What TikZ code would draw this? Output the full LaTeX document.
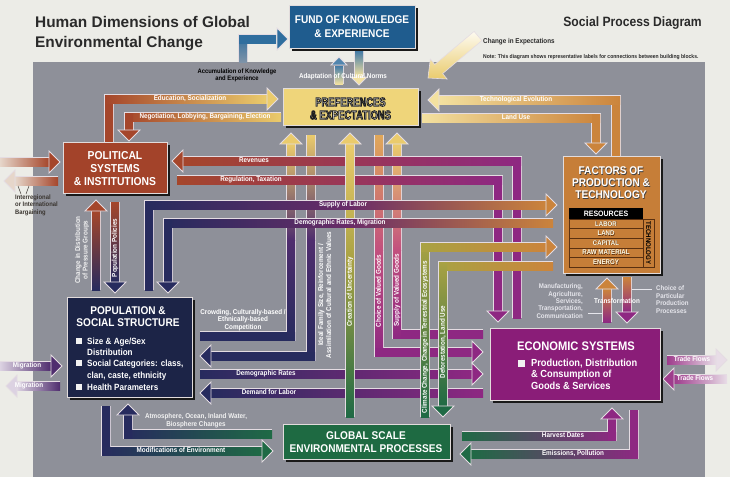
\documentclass[tikz,border=0pt]{standalone}
\usepackage{fontspec}
\setmainfont{Liberation Sans}
\newfontfamily\cf[FakeStretch=0.9]{Liberation Sans}
\newfontfamily\ncf[FakeStretch=0.75]{Liberation Sans}
\usetikzlibrary{shadows}
\definecolor{bgc}{HTML}{ECECE7}
\definecolor{panel}{HTML}{8E9099}
\definecolor{fundc}{HTML}{1F5C8E}
\definecolor{prefc}{HTML}{EFD57A}
\definecolor{polc}{HTML}{A3432A}
\definecolor{factc}{HTML}{C67E38}
\definecolor{popc}{HTML}{1C2447}
\definecolor{econc}{HTML}{8A1D78}
\definecolor{globc}{HTML}{1E6A42}
\definecolor{bandedge}{HTML}{E4DCE2}
\definecolor{boxedge}{HTML}{E2DCDC}
\definecolor{brn}{HTML}{A5462B}
\definecolor{yel}{HTML}{EACB6C}
\definecolor{pyel}{HTML}{F3E1A0}
\definecolor{org}{HTML}{CB843C}
\definecolor{pur}{HTML}{8E2882}
\definecolor{nav}{HTML}{272B5E}
\definecolor{plum}{HTML}{6A2C68}
\definecolor{vio}{HTML}{4F2D6E}
\definecolor{grn}{HTML}{1F6A45}
\definecolor{olv}{HTML}{A9A243}
\definecolor{yor}{HTML}{E0A85A}
\definecolor{pink}{HTML}{C2507E}
\definecolor{blu}{HTML}{2F6E9E}
\definecolor{bgblu}{HTML}{7E93A8}
\definecolor{lblu}{HTML}{9CC3DF}
\definecolor{pale}{HTML}{E6D6CA}
\definecolor{plav}{HTML}{DCD2E2}
\definecolor{ppale}{HTML}{E8DDE7}
\definecolor{pur2}{HTML}{9E3C8C}
\definecolor{titc}{HTML}{2A2A2A}
\definecolor{darktxt}{HTML}{3A3530}
\definecolor{lighttxt}{HTML}{E6E6EC}
\definecolor{rowline}{HTML}{5A3010}
\newcommand\fsz[2]{\fontsize{#1}{#2}\selectfont}
\newcommand\lf{\cf\bfseries\fsz{7}{7.6}}
\newcommand\outon{\special{pdf:literal direct 2 Tr 0.8 w 0.12 0.12 0.12 RG 1 1 1 rg}}
\newcommand\outoff{\special{pdf:literal direct 0 Tr}}
\def\ahs{11}
\newcommand\bandol[1]{\draw[line width=10pt,draw=bandedge,line join=miter] #1;}
\newcommand\hsh[5]{\shade[left color=#4,right color=#5] (#1,#3-4) rectangle (#2,#3+4);}
\newcommand\vsh[5]{\shade[top color=#4,bottom color=#5] (#1-4,#2) rectangle (#1+4,#3);}
\newcommand\arR[3]{\filldraw[fill=#3,draw=bandedge,line width=0.8pt,line join=miter] (#1,#2) -- (#1-\ahs,#2-\ahs) -- (#1-\ahs,#2+\ahs) -- cycle;}
\newcommand\arL[3]{\filldraw[fill=#3,draw=bandedge,line width=0.8pt,line join=miter] (#1,#2) -- (#1+\ahs,#2-\ahs) -- (#1+\ahs,#2+\ahs) -- cycle;}
\newcommand\arU[3]{\filldraw[fill=#3,draw=bandedge,line width=0.8pt,line join=miter] (#1,#2) -- (#1-\ahs,#2+\ahs) -- (#1+\ahs,#2+\ahs) -- cycle;}
\newcommand\arD[3]{\filldraw[fill=#3,draw=bandedge,line width=0.8pt,line join=miter] (#1,#2) -- (#1-\ahs,#2-\ahs) -- (#1+\ahs,#2-\ahs) -- cycle;}
\begin{document}
\begin{tikzpicture}[x=1pt,y=-1pt,
  lab/.style={text=white,font=\lf,inner sep=0,text height=5pt,text depth=1.4pt},
  labm/.style={text=white,font=\cf\bfseries\fsz{7}{7.4},inner sep=0,align=center},
  box/.style={draw=boxedge,line width=0.7pt,inner sep=0,
    general shadow={fill=black!90,shadow xshift=3pt,shadow yshift=-3pt}},
  boxtxt/.style={text=white,font=\cf\bfseries\fsz{11.2}{12.6},align=center,inner sep=0},
  preftxt/.style={boxtxt,font=\ncf\bfseries\fsz{12.5}{13}},
  poptxt/.style={anchor=base west,text=white,font=\cf\bfseries\fsz{9}{10},inner sep=0},
  ecotxt/.style={anchor=base west,text=white,font=\cf\bfseries\fsz{10.3}{11},inner sep=0},
]
\fill[bgc] (0,0) rectangle (730,477);
\useasboundingbox (0,0) rectangle (730,477);
\fill[panel] (33,62) rectangle (705,477);

% ---------- titles and notes
\node[anchor=base west,font=\bfseries\fsz{15.4}{20},text=titc,inner sep=0] (t1) at (35,27) {Human Dimensions of Global};
\node[anchor=base west,font=\bfseries\fsz{15.4}{20},text=titc,inner sep=0] (t2) at (35,47) {Environmental Change};
\node[anchor=base east,font=\cf\bfseries\fsz{13.5}{15},text=titc,inner sep=0] (t3) at (702,26.5) {Social Process Diagram};
\node[anchor=west,font=\cf\bfseries\fsz{7}{8},text=titc,inner sep=0] (t4) at (483,42) {Change in Expectations};
\node[anchor=west,font=\cf\bfseries\fsz{5.6}{7},text=titc,inner sep=0] (t5) at (483,57) {Note: This diagram shows representative labels for connections between building blocks.};

% ---------- change in expectations arrow
\shade[top color=white!85!pyel,bottom color=yel,draw=bandedge,line width=0.6pt,line join=miter]
 (481.9,40.6) -- (442.6,73.6) -- (447.1,79.0) -- (428,78) -- (430.3,59.0) -- (434.8,64.4) -- (474.1,31.4) -- cycle;

% ---------- accumulation arrow (blue)
\bandol{(243,62) -- (243,39) -- (276,39)}
\vsh{243}{35}{62}{blu}{bgblu}
\hsh{239}{276}{39}{blu}{blu}
\arR{288}{39}{blu}

% ---------- adaptation arrows
\def\ahs{8}
\bandol{(339,84) -- (339,66)}
\vsh{339}{66}{84}{fundc!70!lblu}{pyel}
\arU{339}{57}{fundc!60!lblu}
\bandol{(359,51) -- (359,76)}
\vsh{359}{51}{76}{fundc!70!lblu}{pyel}
\arD{359}{85}{pyel}
\def\ahs{11}

% ---------- Crowding (population -> preferences)
\bandol{(200,336) -- (291,336) -- (291,144)}
\hsh{200}{295}{336}{nav}{nav}
\vsh{291}{144}{240}{yel}{vio}
\vsh{291}{240}{340}{vio}{nav}
\arU{291}{133}{yel}
% Ideal family size (preferences -> population)
\bandol{(311,135) -- (311,356) -- (211,356)}
\vsh{311}{135}{240}{yel}{vio}
\vsh{311}{240}{360}{vio}{nav}
\hsh{211}{315}{356}{nav}{nav}
\arL{200}{356}{nav}
% Choice of valued goods
\bandol{(379,135) -- (379,352) -- (472,352)}
\vsh{379}{135}{250}{yor}{pink}
\vsh{379}{250}{356}{pink}{pur}
\hsh{375}{472}{352}{pur}{pur}
\arR{483}{352}{pur}
% Supply of valued goods
\bandol{(483,334) -- (397,334) -- (397,144)}
\hsh{393}{483}{334}{pur}{pur}
\vsh{397}{144}{250}{yel}{pink}
\vsh{397}{250}{338}{pink}{pur}
\arU{397}{133}{yel}
% Demographic rates
\bandol{(200,374) -- (472,374)}
\hsh{200}{472}{374}{nav}{pur}
\arR{483}{374}{pur}
% Demand for labor
\bandol{(483,393) -- (211,393)}
\hsh{211}{483}{393}{nav}{pur}
\arL{200}{393}{nav}
% Revenues
\bandol{(517,318) -- (517,161) -- (183,161)}
\vsh{517}{157}{318}{pur}{pur}
\hsh{183}{521}{161}{brn}{pur}
\arL{172}{161}{brn}
% Regulation, Taxation
\bandol{(177,180) -- (498,180) -- (498,311)}
\hsh{177}{502}{180}{brn}{pur}
\vsh{498}{176}{311}{pur}{pur}
\arD{498}{322}{pur}
% Creation of uncertainty
\bandol{(350,417) -- (350,144)}
\vsh{350}{144}{260}{yel}{olv}
\vsh{350}{260}{417}{olv}{grn}
\arU{350}{133}{yel}
% Climate change
\bandol{(425,417) -- (425,247) -- (546,247)}
\vsh{425}{243}{417}{olv}{grn}
\hsh{421}{546}{247}{olv}{org}
\arR{557}{247}{org}
% Deforestation
\bandol{(553,266) -- (443,266) -- (443,406)}
\hsh{439}{553}{266}{olv}{org}
\vsh{443}{262}{406}{olv}{grn}
\arD{443}{417}{grn}
% Supply of labor
\bandol{(149,290) -- (149,205) -- (546,205)}
\vsh{149}{201}{290}{nav}{nav}
\hsh{145}{350}{205}{nav}{plum}
\hsh{350}{546}{205}{plum}{org}
\arR{557}{205}{org}
% Demographic rates, migration
\bandol{(553,223) -- (168,223) -- (168,282)}
\hsh{164}{350}{223}{nav}{plum}
\hsh{350}{553}{223}{plum}{org}
\vsh{168}{219}{282}{nav}{nav}
\arD{168}{293}{nav}
% Education
\bandol{(109,142) -- (109,99) -- (267,99)}
\vsh{109}{95}{142}{brn}{brn}
\hsh{105}{267}{99}{brn}{yel}
\arR{278}{99}{yel}
% Negotiation
\bandol{(281,117) -- (129,117) -- (129,130)}
\hsh{125}{281}{117}{brn}{yel}
\vsh{129}{113}{130}{brn}{brn}
\arD{129}{141}{brn}
% Technological evolution
\bandol{(616,156) -- (616,100) -- (439,100)}
\vsh{616}{96}{156}{org}{org}
\hsh{439}{620}{100}{pyel}{org}
\arL{428}{100}{pyel}
% Land use
\bandol{(422,118) -- (596,118) -- (596,143)}
\hsh{422}{600}{118}{pyel}{org}
\vsh{596}{114}{143}{org}{org}
\arD{596}{154}{org}
% Atmosphere ...
\bandol{(272,434) -- (128,434) -- (128,415)}
\hsh{124}{272}{434}{nav}{grn}
\vsh{128}{415}{438}{nav}{nav}
\arU{128}{404}{nav}
% Modifications of environment
\bandol{(106,406) -- (106,451) -- (262,451)}
\vsh{106}{406}{455}{nav}{nav}
\hsh{102}{262}{451}{nav}{grn}
\arR{273}{451}{grn}
% Harvest dates
\bandol{(462,436) -- (612,436) -- (612,419)}
\hsh{462}{616}{436}{grn}{pur}
\vsh{612}{419}{440}{pur}{pur}
\arU{612}{408}{pur}
% Emissions
\bandol{(634,410) -- (634,454) -- (471,454)}
\vsh{634}{410}{458}{pur}{pur}
\hsh{471}{638}{454}{grn}{pur}
\arL{460}{454}{grn}
% Transformation
\bandol{(607,322) -- (607,289)}
\vsh{607}{289}{322}{org}{pur}
\arU{607}{278}{org}
\bandol{(627,277) -- (627,312)}
\vsh{627}{277}{312}{org}{pur}
\arD{627}{323}{pur}
% Pressure groups / population policies
\bandol{(96,290) -- (96,211)}
\vsh{96}{211}{290}{brn}{nav}
\arU{96}{200}{brn}
\bandol{(115,202) -- (115,282)}
\vsh{115}{202}{282}{brn}{nav}
\arD{115}{293}{nav}
% Interregional bargaining
\bandol{(0,162) -- (49,162)}
\hsh{0}{49}{162}{pale}{brn}
\arR{60}{162}{brn}
\bandol{(58,181) -- (15,181)}
\hsh{15}{58}{181}{pale}{brn}
\arL{4}{181}{pale}
% Migration
\bandol{(0,366) -- (51,366)}
\hsh{0}{51}{366}{plav}{vio}
\arR{62}{366}{vio}
\bandol{(60,386) -- (17,386)}
\hsh{17}{60}{386}{plav}{vio}
\arL{6}{386}{plav}
% Trade flows
\bandol{(667,360) -- (716,360)}
\hsh{667}{716}{360}{pur2}{ppale}
\arR{727}{360}{ppale}
\bandol{(727,379) -- (674,379)}
\hsh{674}{727}{379}{pur2}{ppale}
\arL{663}{379}{pur2}

% ---------- boxes
\node[box,fill=fundc,minimum width=126pt,minimum height=43pt] (fund) at (352,26.5) {};
\node[boxtxt,font=\cf\bfseries\fsz{11.2}{13.5}] (fundt) at (fund) {FUND OF KNOWLEDGE\\\& EXPERIENCE};
\node[box,fill=prefc,minimum width=135pt,minimum height=37pt] (pref) at (350.5,106.5) {};
\node[preftxt] (preft) at (350.5,108.5) {\outon PREFERENCES\\\& EXPECTATIONS\outoff};
\node[box,fill=polc,minimum width=104pt,minimum height=51pt] (pol) at (115,167.5) {};
\node[boxtxt,font=\cf\bfseries\fsz{11.5}{13}] (polt) at (115,169) {POLITICAL\\SYSTEMS\\\& INSTITUTIONS};
\node[box,fill=factc,minimum width=97pt,minimum height=117pt] (fact) at (611.5,214.5) {};
\node[boxtxt,text=black!75,font=\cf\bfseries\fsz{11.2}{12}] (factts) at (611.7,183.7) {FACTORS OF\\PRODUCTION \&\\TECHNOLOGY};
\node[boxtxt,font=\cf\bfseries\fsz{11.2}{12}] (factt) at (611,183) {FACTORS OF\\PRODUCTION \&\\TECHNOLOGY};
\fill[black] (569,208) rectangle (643,219);
\node[text=white,font=\cf\bfseries\fsz{7.8}{8},inner sep=0] (res) at (606,213.7) {RESOURCES};
\draw[rowline,line width=0.6pt] (569,219) rectangle (643,267) (643,219) rectangle (654,267);
\foreach \yy in {228.6,238.2,247.8,257.4} {\draw[rowline,line width=0.6pt] (569,\yy) -- (643,\yy);}
\foreach \yy/\tt in {223.8/LABOR,233.4/LAND,243/CAPITAL,252.6/RAW MATERIAL,262.2/ENERGY} {
  \node[text=rowline,font=\cf\bfseries\fsz{6.8}{7},inner sep=0] at (606.5,\yy+0.5) {\tt};
  \node[text=white!92!yellow,font=\cf\bfseries\fsz{6.8}{7},inner sep=0] at (606,\yy) {\tt};
}
\node[rotate=-90,text=black,font=\cf\bfseries\fsz{6.8}{7},inner sep=0] (tech) at (648.5,243) {TECHNOLOGY};
\node[box,fill=popc,minimum width=125pt,minimum height=100pt] (pop) at (129.5,347) {};
\node[boxtxt,font=\cf\bfseries\fsz{11.2}{12}] (popt) at (128,317) {POPULATION \&\\SOCIAL STRUCTURE};
\foreach \yy in {341,363,387} {\fill[white!90!gray] (76,\yy-3) rectangle (82,\yy+3);}
\node[poptxt] (p1) at (87,344.2) {Size \& Age/Sex};
\node[poptxt] (p2) at (87,355.2) {Distribution};
\node[poptxt] (p3) at (87,366.2) {Social Categories: class,};
\node[poptxt] (p4) at (87,378.2) {clan, caste, ethnicity};
\node[poptxt] (p5) at (87,390.2) {Health Parameters};
\node[box,fill=econc,minimum width=170pt,minimum height=72pt] (econ) at (575,364) {};
\node[text=white,font=\cf\bfseries\fsz{12.4}{13},inner sep=0] (econt) at (576,346) {ECONOMIC SYSTEMS};
\fill[white!90!gray] (518,360) rectangle (525,367);
\node[ecotxt] (e1) at (531,366.6) {Production, Distribution};
\node[ecotxt] (e2) at (531,377.6) {\& Consumption of};
\node[ecotxt] (e3) at (531,389.6) {Goods \& Services};
\node[box,fill=globc,minimum width=167pt,minimum height=35pt] (glob) at (366.5,441.5) {};
\node[boxtxt] (globt) at (366,442) {GLOBAL SCALE\\ENVIRONMENTAL PROCESSES};

% ---------- labels
\node[lab] at (190,99) {Education, Socialization};
\node[lab] at (205,117) {Negotiation, Lobbying, Bargaining, Election};
\node[lab] at (516,100) {Technological Evolution};
\node[lab] at (516,118) {Land Use};
\node[lab] at (254,161) {Revenues};
\node[lab] at (251,180) {Regulation, Taxation};
\node[lab] at (343,205) {Supply of Labor};
\node[lab] at (340,223) {Demographic Rates, Migration};
\node[labm] at (243,320) {Crowding, Culturally-based /\\Ethnically-based\\Competition};
\node[labm,rotate=90,font=\cf\bfseries\fsz{7}{8}] at (324.5,295) {Ideal Family Size, Reinforcement /\\Assimilation of Cultural and Ethnic Values};
\node[lab,rotate=90] at (350,292) {Creation of Uncertainty};
\node[lab,rotate=90] at (379,291) {Choice of Valued Goods};
\node[lab,rotate=90] at (397,290) {Supply of Valued Goods};
\node[lab,rotate=90] at (425,337) {Climate Change, Change in Terrestrial Ecosystems};
\node[lab,rotate=90] at (443,342) {Deforestation, Land Use};
\node[lab] at (266,374) {Demographic Rates};
\node[lab] at (269,393) {Demand for Labor};
\node[lab] at (181,451) {Modifications of Environment};
\node[labm,text=white!90!gray,font=\cf\bfseries\fsz{7}{8}] at (196,421) {Atmosphere, Ocean, Inland Water,\\Biosphere Changes};
\node[lab] at (563,436) {Harvest Dates};
\node[lab] at (573,454) {Emissions, Pollution};
\node[lab] at (692,360) {Trade Flows};
\node[lab] at (695,379) {Trade Flows};
\node[lab] at (27,366) {Migration};
\node[lab] at (29,386) {Migration};
\node[lab,rotate=90] at (115,248) {Population Policies};
\node[labm,rotate=90,text=white!90!gray,font=\cf\bfseries\fsz{7}{7.6}] at (82,250) {Change in Distribution\\of Pressure Groups};
\node[lab] at (617,302) {Transformation};
\node[lab] at (343,77) {Adaptation of Cultural Norms};
\node[labm,text=black,font=\cf\bfseries\fsz{6.5}{7.5}] at (237,75.5) {Accumulation of Knowledge\\and Experience};
\node[anchor=north west,align=left,inner sep=0,font=\cf\bfseries\fsz{6.5}{7.5},text=darktxt] at (15,194.5) {Interregional\\or International\\Bargaining};
\draw[darktxt,line width=0.5pt] (18,186) -- (21,194) (29,186) -- (26,194);
\node[anchor=north east,align=right,inner sep=0,font=\cf\bfseries\fsz{6.8}{7.4},text=lighttxt] at (583,283.5) {Manufacturing,\\Agriculture,\\Services,\\Transportation,\\Communication};
\node[anchor=north west,align=left,inner sep=0,font=\cf\bfseries\fsz{6.8}{7.6},text=lighttxt] at (656,285.5) {Choice of\\Particular\\Production\\Processes};
\draw[lighttxt,line width=0.7pt] (588,313) -- (602,313) (632,289) -- (652,289);
\end{tikzpicture}
\end{document}
